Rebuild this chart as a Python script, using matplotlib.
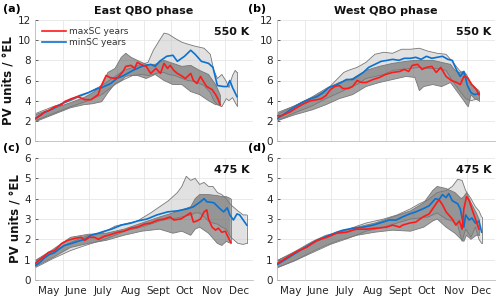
import numpy as np
import matplotlib
matplotlib.use("Agg")
import matplotlib.pyplot as plt

# ---------------- data (x = days since 1 May) ----------------
months = ["May", "June", "July", "Aug", "Sept", "Oct", "Nov", "Dec"]
month_starts = [0, 31, 61, 92, 123, 153, 184, 214, 245]

# Panel (a): East QBO, 550 K
a_red_d = [0, 7, 11, 15, 22, 30, 33, 41, 48, 56, 63, 71, 74, 80, 84, 89, 93, 99, 102, 108, 112, 115, 121, 125, 130, 136, 141, 145, 149, 152, 156, 160, 164, 169, 175, 178, 182, 186, 190, 193, 199, 203, 206, 208]
a_red_v = [2.2, 2.6, 2.9, 3.0, 3.4, 3.6, 3.9, 4.2, 4.4, 4.1, 4.1, 4.6, 5.4, 6.5, 6.3, 6.2, 6.3, 6.9, 7.4, 7.5, 7.2, 7.8, 7.5, 7.4, 6.7, 7.2, 6.7, 7.7, 7.2, 7.5, 7.0, 6.7, 6.5, 6.2, 6.7, 6.0, 5.7, 6.4, 5.8, 5.4, 5.1, 4.6, 4.1, 3.6]
a_blue_d = [0, 10, 20, 30, 40, 50, 60, 70, 75, 85, 92, 100, 110, 120, 130, 135, 140, 148, 155, 160, 168, 175, 180, 187, 195, 200, 205, 212, 216, 219, 222, 227]
a_blue_v = [2.2, 2.8, 3.2, 3.7, 4.1, 4.5, 4.8, 5.2, 5.3, 5.7, 6.2, 6.5, 7.0, 7.4, 7.6, 7.4, 7.9, 8.4, 8.5, 7.9, 8.4, 9.0, 8.6, 7.9, 7.7, 7.3, 5.5, 5.4, 5.4, 6.0, 5.3, 4.4]
a_maxband_d = [0, 20, 40, 55, 65, 75, 82, 90, 97, 102, 108, 115, 125, 135, 145, 155, 165, 175, 185, 195, 203, 208]
a_maxband_hi = [2.6, 3.2, 3.8, 4.3, 4.8, 5.5, 6.8, 7.2, 8.3, 8.7, 8.3, 8.0, 7.6, 7.6, 8.0, 7.7, 7.4, 7.5, 7.0, 6.6, 5.6, 4.6]
a_maxband_lo = [1.9, 2.6, 3.3, 3.6, 3.7, 3.9, 4.8, 5.7, 6.0, 6.4, 6.5, 6.5, 6.2, 6.6, 6.0, 5.6, 5.6, 4.9, 4.6, 4.0, 3.6, 3.6]
a_minband_d = [0, 20, 40, 60, 75, 90, 100, 110, 120, 127, 133, 140, 145, 150, 157, 165, 172, 180, 190, 197, 201, 205, 210, 215, 218, 222, 225, 227]
a_minband_hi = [2.7, 3.4, 4.0, 4.8, 5.5, 6.4, 7.0, 7.3, 7.6, 7.8, 9.0, 10.0, 10.7, 10.6, 10.2, 9.8, 9.6, 9.4, 9.2, 8.6, 7.0, 6.2, 6.6, 5.9, 5.3, 6.5, 7.0, 6.8]
a_minband_lo = [2.0, 2.7, 3.4, 4.0, 4.6, 5.6, 6.1, 6.5, 6.6, 6.5, 6.6, 6.8, 6.8, 6.6, 6.5, 6.2, 6.0, 5.9, 5.5, 4.8, 4.0, 3.6, 3.4, 4.2, 4.0, 4.3, 3.8, 3.5]

# Panel (b): West QBO, 550 K
b_red_d = [0, 5, 10, 15, 22, 30, 38, 45, 50, 55, 60, 65, 70, 74, 80, 85, 90, 95, 100, 108, 115, 122, 130, 138, 143, 148, 152, 158, 163, 168, 174, 179, 184, 190, 196, 202, 206, 210, 214, 219, 224, 227]
b_red_v = [2.5, 2.5, 2.7, 2.9, 3.3, 3.7, 4.0, 4.1, 4.2, 4.5, 5.1, 5.4, 5.5, 5.2, 5.2, 5.4, 6.0, 5.8, 5.8, 6.1, 6.3, 6.6, 6.8, 6.9, 7.1, 6.9, 7.5, 7.6, 7.1, 7.3, 7.4, 6.8, 7.3, 6.4, 6.0, 5.8, 5.6, 6.4, 6.3, 5.6, 5.1, 4.6]
b_blue_d = [0, 5, 10, 15, 22, 30, 38, 45, 52, 58, 65, 72, 78, 85, 90, 97, 103, 110, 117, 124, 130, 137, 143, 150, 156, 162, 168, 174, 180, 186, 192, 197, 202, 206, 210, 214, 218, 222, 227]
b_blue_v = [2.2, 2.5, 2.8, 3.1, 3.5, 3.9, 4.2, 4.4, 4.8, 5.3, 5.5, 5.8, 6.1, 6.1, 6.4, 6.8, 7.3, 7.6, 7.9, 8.0, 8.1, 8.0, 8.2, 8.2, 8.3, 8.1, 8.4, 8.2, 8.3, 8.4, 8.1, 8.0, 7.0, 6.4, 6.9, 5.5, 4.8, 4.6, 4.7]
b_maxband_d = [0, 20, 40, 55, 70, 85, 100, 115, 130, 145, 155, 160, 165, 175, 185, 195, 200, 205, 210, 213, 215, 218, 222, 227]
b_maxband_hi = [2.8, 3.5, 4.4, 5.2, 5.8, 6.2, 7.0, 7.4, 7.7, 7.9, 8.0, 8.0, 8.0, 8.0, 7.8, 7.6, 7.0, 6.8, 6.9, 6.6, 6.2, 5.6, 5.4, 4.8]
b_maxband_lo = [2.0, 2.6, 3.1, 3.6, 4.2, 4.6, 5.4, 5.8, 6.1, 6.4, 6.3, 5.0, 5.4, 5.6, 5.4, 5.8, 5.2, 4.6, 4.0, 3.6, 3.4, 4.6, 4.2, 4.0]
b_minband_d = [0, 20, 40, 55, 65, 75, 80, 90, 100, 110, 120, 130, 140, 150, 160, 170, 180, 190, 197, 205, 212, 218, 227]
b_minband_hi = [2.6, 3.5, 4.3, 5.0, 5.9, 6.8, 7.0, 7.3, 7.8, 8.6, 8.8, 8.7, 9.1, 9.1, 9.2, 8.9, 8.7, 8.6, 7.9, 7.0, 6.5, 5.6, 5.0]
b_minband_lo = [2.0, 2.8, 3.5, 4.2, 4.6, 5.0, 5.3, 5.6, 6.2, 6.4, 6.6, 7.0, 7.1, 7.2, 7.3, 7.2, 7.2, 7.0, 6.0, 5.0, 4.2, 4.0, 4.2]

# Panel (c): East QBO, 475 K
c_red_d = [0, 7, 15, 22, 30, 37, 45, 52, 56, 61, 67, 71, 78, 86, 93, 100, 108, 115, 123, 130, 138, 145, 152, 156, 164, 171, 175, 178, 182, 186, 190, 193, 195, 199, 203, 206, 210, 214, 216, 220]
c_red_v = [0.8, 1.05, 1.35, 1.45, 1.8, 1.95, 2.05, 2.1, 1.95, 2.1, 2.1, 2.0, 2.15, 2.25, 2.35, 2.4, 2.55, 2.6, 2.75, 2.8, 2.95, 3.0, 3.1, 2.95, 3.0, 3.2, 3.3, 2.85, 2.9, 3.0, 3.35, 3.45, 3.0, 2.6, 2.45, 2.55, 2.35, 2.4, 2.2, 1.85]
c_blue_d = [0, 5, 11, 16, 22, 28, 33, 41, 48, 56, 63, 71, 78, 86, 97, 108, 115, 126, 137, 149, 160, 171, 178, 186, 190, 193, 201, 208, 212, 216, 219, 223, 227, 230, 234, 238]
c_blue_v = [0.7, 0.85, 1.1, 1.25, 1.35, 1.55, 1.7, 1.8, 1.9, 2.0, 2.2, 2.3, 2.4, 2.5, 2.7, 2.8, 2.9, 3.0, 3.2, 3.35, 3.4, 3.5, 3.6, 3.85, 4.0, 3.85, 3.8, 3.5, 3.35, 3.55, 3.2, 2.95, 3.25, 3.2, 2.95, 2.7]
c_maxband_d = [0, 20, 40, 60, 80, 100, 120, 140, 155, 165, 175, 180, 185, 195, 205, 210, 215, 220]
c_maxband_hi = [0.95, 1.5, 2.1, 2.25, 2.3, 2.5, 2.8, 3.1, 3.3, 3.45, 3.6, 4.0, 4.2, 4.2, 4.15, 4.1, 4.1, 4.0]
c_maxband_lo = [0.65, 1.1, 1.6, 1.8, 1.95, 2.2, 2.4, 2.5, 2.3, 2.4, 2.2, 2.5, 2.6, 2.3, 1.8, 1.7, 1.9, 1.8]
c_minband_d = [0, 20, 40, 60, 75, 90, 100, 115, 130, 140, 150, 160, 165, 170, 175, 180, 185, 190, 195, 200, 205, 210, 215, 220, 228, 234, 238]
c_minband_hi = [0.95, 1.4, 1.85, 2.2, 2.3, 2.65, 2.75, 2.9, 3.3, 3.6, 3.9, 4.3, 4.6, 5.1, 4.9, 5.0, 4.7, 4.8, 4.6, 4.6, 4.3, 4.2, 4.0, 3.7, 3.4, 3.2, 3.2]
c_minband_lo = [0.6, 1.05, 1.45, 1.75, 1.95, 2.2, 2.4, 2.55, 2.75, 2.9, 3.0, 3.05, 3.1, 3.15, 3.2, 3.3, 3.3, 3.1, 2.9, 2.8, 2.75, 2.6, 2.5, 2.1, 1.8, 1.75, 1.8]

# Panel (d): West QBO, 475 K
d_red_d = [0, 11, 22, 33, 45, 56, 67, 78, 89, 100, 112, 123, 130, 138, 141, 149, 156, 164, 171, 178, 182, 186, 190, 193, 197, 201, 205, 208, 210, 213, 216, 219, 223, 227]
d_red_v = [0.8, 1.1, 1.4, 1.6, 1.95, 2.1, 2.3, 2.35, 2.5, 2.5, 2.55, 2.6, 2.7, 2.6, 2.7, 2.8, 2.85, 3.1, 3.25, 3.7, 3.95, 3.7, 3.35, 3.2, 3.0, 2.7, 2.9, 2.5, 3.5, 4.1, 3.9, 3.5, 3.0, 2.5]
d_blue_d = [0, 11, 22, 33, 45, 56, 67, 74, 86, 97, 108, 119, 126, 134, 141, 149, 156, 164, 171, 178, 182, 186, 190, 193, 197, 203, 206, 210, 212, 216, 219, 223, 227, 230]
d_blue_v = [0.75, 1.05, 1.35, 1.65, 1.95, 2.15, 2.35, 2.45, 2.55, 2.6, 2.7, 2.85, 2.95, 2.95, 3.1, 3.25, 3.35, 3.5, 3.65, 4.0, 3.95, 4.2, 4.05, 4.25, 3.9, 3.75, 3.5, 2.6, 3.2, 2.95, 3.05, 2.8, 2.9, 2.35]
d_maxband_d = [0, 20, 40, 55, 70, 90, 110, 130, 150, 165, 175, 180, 190, 200, 207, 210, 213, 218, 224, 227]
d_maxband_hi = [0.95, 1.4, 1.9, 2.2, 2.35, 2.6, 2.8, 3.1, 3.4, 3.8, 4.4, 4.6, 4.5, 4.3, 4.0, 4.1, 4.3, 3.8, 3.3, 3.0]
d_maxband_lo = [0.6, 0.95, 1.4, 1.7, 1.95, 2.2, 2.35, 2.45, 2.4, 2.6, 2.9, 3.0, 2.6, 2.3, 2.0, 1.9, 2.2, 2.0, 2.2, 2.2]
d_minband_d = [0, 20, 40, 60, 80, 100, 120, 135, 150, 160, 170, 180, 190, 197, 203, 208, 212, 218, 223, 227, 230]
d_minband_hi = [0.95, 1.35, 1.8, 2.2, 2.5, 2.8, 3.0, 3.2, 3.5, 3.75, 3.95, 4.3, 4.4, 4.6, 4.95, 4.9, 4.4, 4.0, 3.6, 3.4, 3.1]
d_minband_lo = [0.6, 0.95, 1.35, 1.75, 2.05, 2.4, 2.6, 2.8, 3.0, 3.05, 3.1, 3.3, 3.0, 2.9, 2.7, 1.9, 2.5, 2.1, 2.6, 2.0, 1.8]

# ---------------- figure ----------------
plt.rcParams['font.family'] = ['DejaVu Sans']
fig = plt.figure(figsize=(5.0, 2.99), dpi=100)

W, H = 500.0, 299.0
def axpos(x0, x1, y0, y1):
    return [x0 / W, 1 - y1 / H, (x1 - x0) / W, (y1 - y0) / H]

axA = fig.add_axes(axpos(35, 253, 20, 141))
axB = fig.add_axes(axpos(277, 495, 20, 141))
axC = fig.add_axes(axpos(35, 253, 158, 280))
axD = fig.add_axes(axpos(277, 495, 158, 280))

RED = '#ff1a1a'
BLUE = '#0a72d0'
LIGHT = '#c9c9c9'
DARK = '#575757'
EDGE = '#777777'

def band(ax, d, lo, hi, fc, alpha):
    d = np.asarray(d); lo = np.asarray(lo); hi = np.asarray(hi)
    ax.fill_between(d, lo, hi, facecolor=fc, alpha=alpha, edgecolor='none', zorder=2)
    ax.plot(d, hi, color=EDGE, lw=0.6, zorder=2.5)
    ax.plot(d, lo, color=EDGE, lw=0.6, zorder=2.5)
    ax.plot([d[-1], d[-1]], [lo[-1], hi[-1]], color=EDGE, lw=0.6, zorder=2.5)

panels = [
    (axA, a_minband_d, a_minband_lo, a_minband_hi, a_maxband_d, a_maxband_lo, a_maxband_hi, a_blue_d, a_blue_v, a_red_d, a_red_v, 12, '550 K'),
    (axB, b_minband_d, b_minband_lo, b_minband_hi, b_maxband_d, b_maxband_lo, b_maxband_hi, b_blue_d, b_blue_v, b_red_d, b_red_v, 12, '550 K'),
    (axC, c_minband_d, c_minband_lo, c_minband_hi, c_maxband_d, c_maxband_lo, c_maxband_hi, c_blue_d, c_blue_v, c_red_d, c_red_v, 6, '475 K'),
    (axD, d_minband_d, d_minband_lo, d_minband_hi, d_maxband_d, d_maxband_lo, d_maxband_hi, d_blue_d, d_blue_v, d_red_d, d_red_v, 6, '475 K'),
]

mids = [(month_starts[i] + month_starts[i + 1]) / 2 for i in range(len(months))]

for i, (ax, mbd, mblo, mbhi, xbd, xblo, xbhi, bd, bv, rd, rv, ymax, lev) in enumerate(panels):
    band(ax, mbd, mblo, mbhi, LIGHT, 0.55)
    band(ax, xbd, xblo, xbhi, DARK, 0.55)
    lb, = ax.plot(bd, bv, color=BLUE, lw=1.2, zorder=4)
    lr, = ax.plot(rd, rv, color=RED, lw=1.2, zorder=5)
    ax.set_xlim(0, 245)
    ax.set_ylim(0, ymax)
    step = 2 if ymax == 12 else 1
    ax.set_yticks(np.arange(0, ymax + 0.1, step))
    ax.set_xticks(month_starts[:-1])
    ax.set_xticklabels([])
    ax.set_xticks(mids, minor=True)
    if i >= 2:
        ax.set_xticklabels(months, minor=True)
    ax.tick_params(axis='x', which='both', length=0, labelsize=7.5, colors='#262626', pad=4)
    ax.tick_params(axis='y', length=2, direction='in', labelsize=7.5, colors='#262626', pad=3, width=0.5)
    ax.grid(True, which='major', color='#e6e6e6', lw=0.6, zorder=0)
    ax.set_axisbelow(True)
    for s in ['top', 'right']:
        ax.spines[s].set_visible(False)
    for s in ['left', 'bottom']:
        ax.spines[s].set_color('#bdbdbd')
        ax.spines[s].set_linewidth(0.6)
    ax.text(0.985, 0.9, lev, transform=ax.transAxes, ha='right', va='center',
            fontsize=8, fontweight='bold', color='#111111')
    if i == 0:
        ax.legend([lr, lb], ['maxSC years', 'minSC years'], loc='upper left',
                  bbox_to_anchor=(0.0, 1.0), frameon=False, fontsize=6.5,
                  handlelength=2.6, handletextpad=0.4, labelspacing=0.25,
                  borderaxespad=0.4, labelcolor='#333333')
    if i % 2 == 0:
        ax.set_ylabel('PV units / °EL', fontsize=8.5, fontweight='bold', labelpad=2, color='#111111')

fig.text(3 / W, 1 - 9 / H, '(a)', fontsize=8, fontweight='bold', va='center', ha='left')
fig.text(248 / W, 1 - 9 / H, '(b)', fontsize=8, fontweight='bold', va='center', ha='left')
fig.text(3 / W, 1 - 148 / H, '(c)', fontsize=8, fontweight='bold', va='center', ha='left')
fig.text(248 / W, 1 - 148 / H, '(d)', fontsize=8, fontweight='bold', va='center', ha='left')
fig.text(144 / W, 1 - 11 / H, 'East QBO phase', fontsize=8, fontweight='bold', va='center', ha='center', color='#111111')
fig.text(386 / W, 1 - 11 / H, 'West QBO phase', fontsize=8, fontweight='bold', va='center', ha='center', color='#111111')

fig.savefig('out.png', dpi=100)
